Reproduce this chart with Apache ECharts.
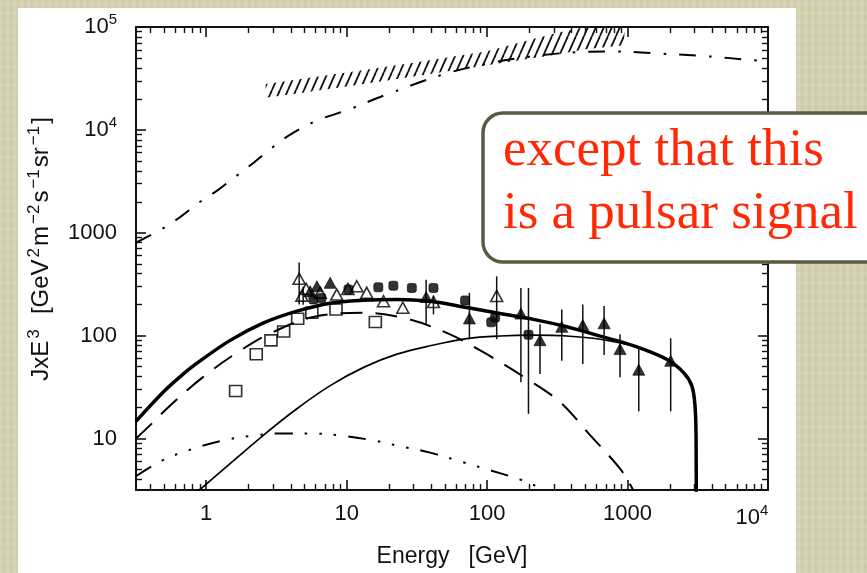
<!DOCTYPE html>
<html>
<head>
<meta charset="utf-8">
<script src="https://cdn.jsdelivr.net/npm/echarts@6/dist/echarts.min.js"></script>
<style>
  html, body { margin: 0; padding: 0; width: 867px; height: 573px; overflow: hidden; }
  body {
    background-color: #d6d3b1;
    background-image:
      repeating-linear-gradient(90deg, rgba(255,255,255,0.08) 0px, rgba(255,255,255,0.08) 2px, rgba(0,0,0,0.03) 3px, rgba(0,0,0,0) 7px),
      repeating-linear-gradient(0deg, rgba(255,255,255,0.03) 0px, rgba(255,255,255,0.03) 4px, rgba(0,0,0,0.02) 4px, rgba(0,0,0,0.02) 9px);
  }
  #paper { position: absolute; left: 18px; top: 8px; width: 778px; height: 565px; background: #fff; }
  #chart { position: absolute; left: 0; top: 0; width: 867px; height: 573px; }
</style>
</head>
<body>
<div id="paper"></div>
<div id="chart"></div>
<script>
// ---- axes ----
const X_MIN = Math.pow(10, -0.5);
const X_MAX = 1e4;
const Y_MIN = Math.pow(10, 0.5);
const Y_MAX = 1e5;
const xTickValues = [1, 10, 100, 1000, 10000];
const yTickValues = [10, 100, 1000, 10000, 100000];
const xMinorTicks = [0.4, 0.5, 0.6, 0.7, 0.8, 0.9, 2, 3, 4, 5, 6, 7, 8, 9,
  20, 30, 40, 50, 60, 70, 80, 90, 200, 300, 400, 500, 600, 700, 800, 900,
  2000, 3000, 4000, 5000, 6000, 7000, 8000, 9000];
const yMinorTicks = [4, 5, 6, 7, 8, 9, 20, 30, 40, 50, 60, 70, 80, 90,
  200, 300, 400, 500, 600, 700, 800, 900, 2000, 3000, 4000, 5000, 6000, 7000, 8000, 9000,
  20000, 30000, 40000, 50000, 60000, 70000, 80000, 90000];

// ---- model curves: [energy GeV, J*E^3] ----
const totalFlux = [[0.316, 14.7], [0.497, 28.5], [0.653, 40], [0.859, 54], [1.48, 90], [2.56, 133],
  [4.42, 173], [7.63, 207], [13.2, 221], [22.8, 225], [39.3, 216], [71.7, 188], [124, 164],
  [214, 144], [369, 122], [637, 99], [1099, 80], [1900, 59], [2496, 44], [2864, 32.7],
  [3020, 21], [3075, 10], [3090, 1]];
const pulsarComponent = [[0.85, 3.0], [0.957, 3.42], [2.56, 10.8], [4.42, 19.5], [7.63, 32.7],
  [13.2, 49.2], [22.8, 66.1], [39.3, 79.8], [71.7, 93.7], [124, 99.3], [214, 101], [369, 99.3],
  [637, 92.3], [1099, 79], [1900, 58], [2496, 43.5], [2864, 32.5], [3020, 21], [3075, 10], [3090, 1]];
const secondaryComponent = [[0.316, 10], [0.399, 13.5], [0.554, 21], [0.957, 40], [1.65, 68],
  [2.85, 105], [5.78, 152], [13.2, 167], [26.8, 146], [54.5, 103], [99.5, 66], [192, 38],
  [331, 22.6], [541, 10.8], [884, 5.1], [1077, 3.3], [1200, 2.4]];
const minorComponent = [[0.316, 4.3], [0.484, 6.1], [0.769, 7.8], [1.28, 9.5], [2.06, 10.6],
  [3.36, 11.2], [5.65, 11.2], [9.0, 10.7], [15.4, 9.6], [25.2, 8.3], [39.3, 7.3], [64.2, 6.0],
  [106, 4.9], [176, 3.95], [237, 3.3], [280, 2.8]];
const protonFlux = [[0.316, 800], [0.479, 1080], [0.642, 1400], [0.881, 1950], [1.21, 2600],
  [1.61, 3500], [2.2, 4850], [2.94, 6700], [4.07, 9200], [6.3, 12500], [10, 15500], [20, 22500],
  [50, 35000], [100, 44000], [200, 51500], [400, 56500], [800, 57800], [1730, 55000],
  [3660, 52000], [7800, 47600], [10000, 46500]];

// hatched band of proton measurements
const bandE = [2.65, 5, 10, 30, 100, 300, 500, 950];
const bandLow = [20500, 23100, 26400, 33000, 42600, 53300, 60800, 66400];
const bandHigh = [27900, 31500, 36100, 45000, 58100, 86700, 100000, 100000];

// ---- measurements ----
const openSquares = [[1.62, 29], [2.27, 66], [2.89, 90], [3.56, 110], [4.48, 146], [5.65, 167],
  [8.4, 180], [16, 136]];
const openTriangles = [[4.59, 358], [4.8, 245], [5.15, 285], [6.48, 262], [8.5, 251], [10.2, 285],
  [11.8, 302], [13.9, 261], [18.3, 216], [25.1, 187], [41.5, 212], [117, 243]];
const filledTriangles = [[5.5, 270], [6.14, 302], [7.63, 326], [36.8, 238], [74.8, 147], [174, 164],
  [238, 90.4], [340, 122], [480, 127], [681, 132], [884, 74], [1202, 46.7], [2028, 57]];
const filledSquares = [[5.8, 225], [6.6, 232], [10.3, 281], [16.8, 295], [21.5, 306], [29.1, 291],
  [41.5, 291], [69.7, 220], [114, 150], [107, 135], [197, 102]];
// [energy, lower, upper]
const errorBars = [[4.59, 201, 514], [4.9, 200, 300], [36.8, 129, 350], [41.5, 161, 245],
  [117, 92.3, 377], [74.8, 92.3, 261], [174, 35.3, 291], [197, 17.4, 291], [238, 42.4, 129],
  [340, 57, 180], [480, 53, 201], [681, 64.7, 194], [884, 39.5, 103], [1202, 18.4, 74],
  [2028, 18.4, 94.4]];

const INK = '#111';
const SANS = "'Liberation Sans', Arial, sans-serif";

function powLabelY(v) {
  const p = Math.round(Math.log10(v));
  return p >= 4 ? '{b|10}{s|' + p + '}' : String(Math.round(v));
}
function powLabelX(v) {
  const p = Math.round(Math.log10(v));
  return p >= 4 ? '{b|10}{sx|' + p + '}' : String(Math.round(v));
}
const labelRich = {
  b: { fontSize: 22, fontFamily: SANS, color: INK, lineHeight: 30 },
  s: { fontSize: 15, fontFamily: SANS, color: INK, lineHeight: 15, verticalAlign: 'top' },
  sx: { fontSize: 15, fontFamily: SANS, color: INK, lineHeight: 15, verticalAlign: 'top',
        padding: [0, 32, 0, 0] }
};

function majorAxis(pos, type, min, max, ticks, withLabels) {
  return {
    type: 'log', logBase: 10, min: min, max: max, position: pos,
    axisLine: { show: true, lineStyle: { color: INK, width: 2 } },
    axisTick: { show: true, inside: true, length: 10, customValues: ticks,
      lineStyle: { color: INK, width: 1.6 } },
    axisLabel: withLabels ? {
      show: true, customValues: ticks, formatter: type === 'x' ? powLabelX : powLabelY,
      margin: type === 'x' ? 13 : 19, color: INK, fontFamily: SANS, fontSize: 22, rich: labelRich
    } : { show: false },
    splitLine: { show: false }
  };
}
function minorAxis(pos, min, max, ticks) {
  return {
    type: 'log', logBase: 10, min: min, max: max, position: pos,
    axisLine: { show: false },
    axisTick: { show: true, inside: true, length: 6, customValues: ticks,
      lineStyle: { color: INK, width: 1.4 } },
    axisLabel: { show: false },
    splitLine: { show: false }
  };
}

const xBottom = majorAxis('bottom', 'x', X_MIN, X_MAX, xTickValues, true);
xBottom.name = 'Energy   [GeV]';
xBottom.nameLocation = 'middle';
xBottom.nameGap = 55;
xBottom.nameTextStyle = { fontFamily: SANS, fontSize: 23, color: INK };

const yLeft = majorAxis('left', 'y', Y_MIN, Y_MAX, yTickValues, true);
yLeft.name = '{m|JxE}{s|3}{m|  [GeV}{s|2}{m|m}{s|−2}{m|s}{s|−1}{m|sr}{s|−1}{m|]}';
yLeft.nameLocation = 'middle';
yLeft.nameRotate = 90;
yLeft.nameGap = 80;
yLeft.nameTextStyle = {
  padding: [0, 0, 0, 19],
  rich: {
    m: { fontSize: 24, fontFamily: SANS, color: INK, lineHeight: 30 },
    s: { fontSize: 17, fontFamily: SANS, color: INK, lineHeight: 17, verticalAlign: 'top',
         padding: [0, 2, 0, 2] }
  }
};

// hatch pattern tile for the measured band
const hatch = document.createElement('canvas');
hatch.width = 8; hatch.height = 18;
(function () {
  const c = hatch.getContext('2d');
  c.strokeStyle = INK; c.lineWidth = 1.8;
  for (let k = -1; k <= 1; k++) {
    c.beginPath(); c.moveTo(k * 8, 18); c.lineTo((k + 1) * 8, 0); c.stroke();
  }
})();

function curve(data, width, dash, z) {
  return {
    type: 'line', data: data, xAxisIndex: 0, yAxisIndex: 0,
    showSymbol: false, symbol: 'none', smooth: 0.35,
    lineStyle: { color: '#000', width: width, type: dash || 'solid' },
    z: z || 3, silent: true
  };
}
function points(data, symbol, size, filled, z) {
  return {
    type: 'scatter', data: data, xAxisIndex: 0, yAxisIndex: 0,
    symbol: symbol, symbolSize: size,
    itemStyle: filled ? { color: '#000', borderColor: '#000', borderWidth: 0.8 }
                      : { color: 'rgba(0,0,0,0)', borderColor: '#000', borderWidth: 1.6 },
    z: z || 6, silent: true
  };
}

const chart = echarts.init(document.getElementById('chart'), null, { renderer: 'canvas' });
chart.setOption({
  animation: false,
  backgroundColor: 'transparent',
  grid: { left: 136, top: 27, width: 632, height: 463, outerBoundsMode: 'none' },
  xAxis: [xBottom, minorAxis('bottom', X_MIN, X_MAX, xMinorTicks),
    majorAxis('top', 'x', X_MIN, X_MAX, xTickValues, false), minorAxis('top', X_MIN, X_MAX, xMinorTicks)],
  yAxis: [yLeft, minorAxis('left', Y_MIN, Y_MAX, yMinorTicks),
    majorAxis('right', 'y', Y_MIN, Y_MAX, yTickValues, false), minorAxis('right', Y_MIN, Y_MAX, yMinorTicks)],
  series: [
    {
      type: 'custom', xAxisIndex: 0, yAxisIndex: 0, silent: true, z: 2,
      data: bandE.map((e, i) => [e, bandLow[i], bandHigh[i]]),
      encode: { x: 0, y: [1, 2] },
      renderItem: function (params, api) {
        if (params.dataIndex !== 0) return null;
        const pts = [];
        for (let i = 0; i < bandE.length; i++) pts.push(api.coord([bandE[i], bandHigh[i]]));
        for (let i = bandE.length - 1; i >= 0; i--) pts.push(api.coord([bandE[i], bandLow[i]]));
        return { type: 'polygon', shape: { points: pts },
          style: { fill: { image: hatch, repeat: 'repeat' }, stroke: null } };
      }
    },
    curve(protonFlux, 2, [17, 13, 2.5, 13]),
    curve(minorComponent, 2, [18, 12, 2.5, 12, 2.5, 12, 2.5, 12]),
    curve(secondaryComponent, 2, [22, 13]),
    curve(pulsarComponent, 1.7),
    curve(totalFlux, 3.5, null, 4),
    {
      type: 'custom', xAxisIndex: 0, yAxisIndex: 0, silent: true, z: 5,
      data: errorBars, encode: { x: 0, y: [1, 2] },
      renderItem: function (params, api) {
        const e = api.value(0);
        const p1 = api.coord([e, api.value(1)]);
        const p2 = api.coord([e, api.value(2)]);
        return { type: 'line', shape: { x1: p1[0], y1: p1[1], x2: p2[0], y2: p2[1] },
          style: { stroke: INK, lineWidth: 1.5 } };
      }
    },
    points(openSquares, 'rect', [12, 11], false),
    points(openTriangles, 'triangle', [12, 11], false),
    points(filledTriangles, 'triangle', [12, 11], true),
    points(filledSquares, 'roundRect', [9, 9], true)
  ],
  graphic: [
    { type: 'rect', z: 100,
      shape: { x: 483, y: 113, width: 420, height: 149, r: 20 },
      style: { fill: '#fff', stroke: '#5d5940', lineWidth: 3.5 } },
    { type: 'text', z: 101, x: 503, y: 151,
      style: { text: 'except that this', font: "53px 'Liberation Serif', serif", fill: '#ff2a05',
        textAlign: 'left', textVerticalAlign: 'middle' } },
    { type: 'text', z: 101, x: 503, y: 214,
      style: { text: 'is a pulsar signal', font: "53px 'Liberation Serif', serif", fill: '#ff2a05',
        textAlign: 'left', textVerticalAlign: 'middle' } }
  ]
});
</script>
</body>
</html>
